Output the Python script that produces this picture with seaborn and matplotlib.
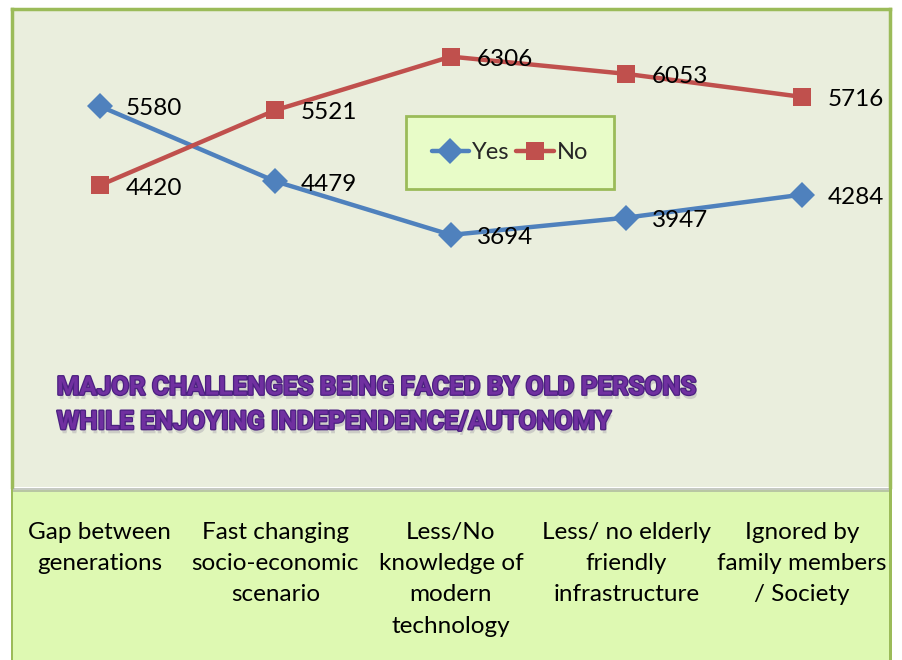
import pandas as pd
import matplotlib.pyplot as plt
import matplotlib.patheffects as pe
from matplotlib.patches import Rectangle
import seaborn as sns

# Chart data
categories = ["Gap between\ngenerations",
              "Fast changing\nsocio-economic\nscenario",
              "Less/No\nknowledge of\nmodern\ntechnology",
              "Less/ no elderly\nfriendly\ninfrastructure",
              "Ignored by\nfamily members\n/ Society"]
yes_values = [5580, 4479, 3694, 3947, 4284]
no_values = [4420, 5521, 6306, 6053, 5716]
series_names = ["Yes", "No"]

df = pd.DataFrame({
    "pos": list(range(len(categories))) * 2,
    "value": yes_values + no_values,
    "series": ["Yes"] * len(yes_values) + ["No"] * len(no_values),
})

sns.set_style("white")
plt.rcParams['font.family'] = ['Lato', 'DejaVu Sans']

fig = plt.figure(figsize=(9.03, 6.6), dpi=100)
fig.patch.set_facecolor("white")

# bottom green band with category labels
fig.patches.append(Rectangle((0.0133, 0.0), 0.972, 0.258, transform=fig.transFigure,
                             facecolor="#def9b2", edgecolor="none", zorder=0))
fig.patches.append(Rectangle((0.0133, 0.255), 0.972, 0.006, transform=fig.transFigure,
                             facecolor="#a0a79a", edgecolor="none", zorder=0, alpha=0.6))
fig.patches.append(Rectangle((0.0118, 0.0), 0.003, 0.262, transform=fig.transFigure,
                             facecolor="#9bbb59", edgecolor="none", zorder=1))
fig.patches.append(Rectangle((0.9845, 0.0), 0.003, 0.262, transform=fig.transFigure,
                             facecolor="#9bbb59", edgecolor="none", zorder=1))

ax = fig.add_axes([0.0133, 0.262, 0.972, 0.724])
ax.set_facecolor("#eaeedd")

palette = {"Yes": "#4f81bd", "No": "#c0504d"}
markers = {"Yes": "D", "No": "s"}
sns.lineplot(data=df, x="pos", y="value", hue="series", style="series",
             hue_order=series_names, style_order=series_names,
             palette=palette, markers=markers, dashes=False,
             linewidth=3.2, markersize=13, markeredgewidth=0, ax=ax)

for vals in (yes_values, no_values):
    for i, v in enumerate(vals):
        ax.annotate(str(v), (i, v), xytext=(18.5, -2), textcoords="offset points",
                    ha="left", va="center", fontsize=17.5, color="black")

ax.set_xlim(-0.5, len(categories) - 0.5)
ax.set_ylim(0, 7000)
ax.set_xticks([])
ax.set_yticks([])
ax.set_xlabel("")
ax.set_ylabel("")
for s in ax.spines.values():
    s.set_color("#9bbb59")
    s.set_linewidth(2.5)
ax.spines["bottom"].set_visible(False)

leg = ax.legend(loc="center", bbox_to_anchor=(0.567, 0.70), ncol=2, fontsize=17,
                frameon=True, fancybox=False, handlelength=1.6, handletextpad=0.1,
                columnspacing=0.3, borderpad=1.1, borderaxespad=0)
leg.get_frame().set_facecolor("#e8fcc8")
leg.get_frame().set_edgecolor("#9bbb59")
leg.get_frame().set_linewidth(2)
leg.get_frame().set_alpha(1)
leg.set_title(None)

title = ax.text(0.051, 0.172, "MAJOR CHALLENGES BEING FACED BY OLD PERSONS\nWHILE ENJOYING INDEPENDENCE/AUTONOMY",
                transform=ax.transAxes, ha="left", va="center", fontsize=18.6,
                fontweight="bold", color="#7030a0", linespacing=1.55,
                family=["Roboto", "DejaVu Sans"])
title.set_path_effects([pe.withSimplePatchShadow(offset=(1, -3), shadow_rgbFace="#b8b8b8", alpha=0.6),
                        pe.Stroke(linewidth=1.8, foreground="#4b2080"), pe.Normal()])

for i, cat in enumerate(categories):
    x = ax.transData.transform((i, 0))[0]
    xf = fig.transFigure.inverted().transform((x, 0))[0]
    fig.text(xf, 0.209, cat, ha="center", va="top", fontsize=17.5,
             color="black", linespacing=1.6)

fig.savefig("out.png", dpi=100)
